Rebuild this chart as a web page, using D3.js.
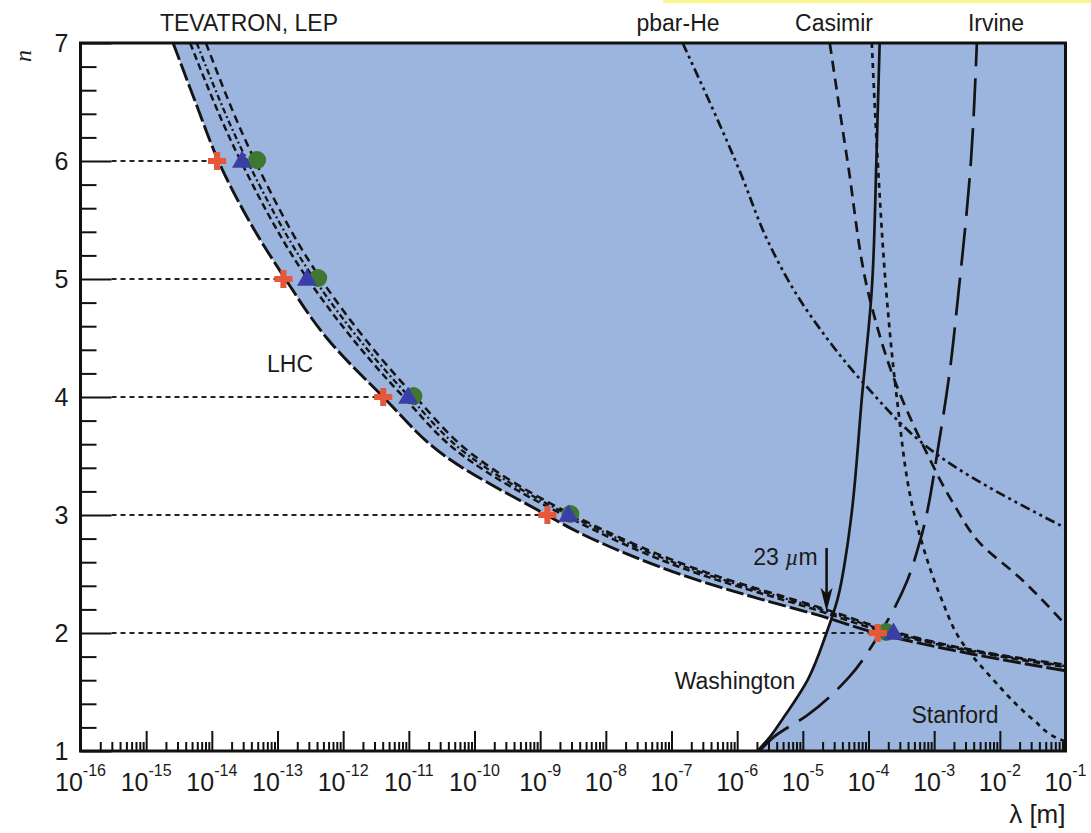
<!DOCTYPE html>
<html>
<head>
<meta charset="utf-8">
<script src="https://cdn.jsdelivr.net/npm/d3@7"></script>
<style>
  body { margin: 0; background: #fff; }
  text { font-family: "Liberation Sans", Arial, sans-serif; fill: #1a1a1a; }
</style>
</head>
<body>
<div id="chart"></div>
<script>
// ---- data: each point is [log10(lambda / m), n] ----
const outerLHC = [[-14.59,7],[-14.25,6.5],[-13.90,6],[-13.44,5.5],[-12.88,5],[-12.25,4.5],[-11.39,4],
  [-10.45,3.5],[-8.90,3],[-8.44,2.86],[-7.68,2.67],[-6.67,2.46],[-5.66,2.29],[-4.70,2.14],
  [-3.88,2.0],[-2.41,1.82],[-1.0,1.68]];
const bundleA = [[-14.33,7],[-13.56,6],[-12.54,5],[-11.08,4],[-10.17,3.5],[-8.64,3],[-6.58,2.5],
  [-4.82,2.2],[-3.68,2.0],[-2.47,1.85],[-1.0,1.71]];
const bundleB = [[-14.23,7],[-13.46,6],[-12.44,5],[-10.99,4],[-10.08,3.5],[-8.56,3],[-6.48,2.5],
  [-4.72,2.2],[-3.60,2.0],[-2.41,1.85],[-1.0,1.72]];
const bundleC = [[-14.09,7],[-13.34,6],[-12.34,5],[-10.90,4],[-10.00,3.5],[-8.50,3],[-6.40,2.5],
  [-4.65,2.2],[-3.54,2.0],[-2.36,1.85],[-1.0,1.73]];
const washington = [[-5.69,1.0],[-5.50,1.12],[-5.31,1.27],[-4.92,1.61],[-4.64,2.0],
  [-4.47,2.29],[-4.33,2.71],[-4.26,3.0],[-4.10,4.0],[-3.95,4.91],[-3.88,6.0],[-3.83,7.0]];
const stanford = [[-5.66,1.0],[-5.44,1.12],[-4.94,1.30],[-4.29,1.63],[-3.88,1.95],[-3.42,2.43],
  [-3.21,2.79],[-2.92,3.64],[-2.76,4.23],[-2.64,4.83],[-2.44,6.0],[-2.35,7.0]];
const dottedCurve = [[-3.95,7.0],[-3.86,6.0],[-3.72,4.83],[-3.57,4.0],[-3.30,3.0],[-2.89,2.29],
  [-2.61,1.95],[-2.11,1.61],[-1.50,1.27],[-1.09,1.10],[-1.0,1.08]];
const casimir = [[-4.59,7.0],[-4.32,6.0],[-3.98,4.83],[-3.56,4.08],[-3.16,3.58],[-2.71,3.10],
  [-2.30,2.76],[-1.70,2.47],[-1.0,2.07]];
const pbarHe = [[-6.83,7.0],[-5.95,5.90],[-5.54,5.33],[-5.04,4.82],[-4.69,4.54],[-4.08,4.12],
  [-2.90,3.49],[-1.0,2.89]];
const crossPoint = [-4.57, 2.12];   // LHC boundary meets Washington

// markers
const nLevels   = [6, 5, 4, 3, 2];
const redCrossL = [-13.92, -12.91, -11.39, -8.89, -3.86];
const greenDotL = [-13.31, -12.38, -10.93, -8.54, -3.73];
const blueTriL  = [-13.54, -12.55, -11.01, -8.57, -3.62];

// arrow "23 um"
const arrowLambda = 2.3e-5;
const arrowN = [2.72, 2.18];

// ticks
const xTickExps = [-16,-15,-14,-13,-12,-11,-10,-9,-8,-7,-6,-5,-4,-3,-2,-1];
const yTicks = [1, 2, 3, 4, 5, 6, 7];

class Exclusion {
  constructor(_config) {
    this.config = {
      parentElement: _config.parentElement,
      containerWidth: _config.containerWidth || 1091,
      containerHeight: _config.containerHeight || 833,
      margin: _config.margin || {top: 43, right: 25.5, bottom: 82, left: 80.5}
    };
    this.initVis();
  }

  initVis() {
    let vis = this;
    vis.width = vis.config.containerWidth - vis.config.margin.left - vis.config.margin.right;
    vis.height = vis.config.containerHeight - vis.config.margin.top - vis.config.margin.bottom;

    vis.root = d3.select(vis.config.parentElement).append("svg")
      .attr("width", vis.config.containerWidth)
      .attr("height", vis.config.containerHeight);

    // yellow strip along the top edge of the scan
    vis.root.append("rect").attr("x", 663).attr("y", 0).attr("width", 428).attr("height", 3)
      .attr("fill", "#fbf68a");

    vis.svg = vis.root.append("g")
      .attr("transform", "translate(" + vis.config.margin.left + "," + vis.config.margin.top + ")");

    vis.x = d3.scaleLog().domain([1e-16, 1e-1]).range([0, vis.width]);
    vis.y = d3.scaleLinear().domain([1, 7]).range([vis.height, 0]);

    vis.svg.append("clipPath").attr("id", "plotclip")
      .append("rect").attr("width", vis.width).attr("height", vis.height);

    // every curve is single valued in n, so a monotone spline in y keeps them smooth
    vis.line = d3.line()
      .x(d => vis.x(Math.pow(10, d[0])))
      .y(d => vis.y(d[1]))
      .curve(d3.curveMonotoneY);

    vis.renderVis();
  }

  renderVis() {
    let vis = this;
    const plot = vis.svg.append("g").attr("clip-path", "url(#plotclip)");

    // excluded region
    plot.append("rect").attr("width", vis.width).attr("height", vis.height).attr("fill", "#9cb5de");

    // allowed (white) region: left of the LHC boundary and of the Washington curve
    const upper = outerLHC.filter(d => d[1] > crossPoint[1]).concat([crossPoint]);
    const lower = [crossPoint].concat(washington.filter(d => d[1] < crossPoint[1]).reverse());
    const whitePath = "M0,0L" + vis.line(upper).slice(1) + "L" + vis.line(lower).slice(1) +
      "L0," + vis.height + "Z";
    plot.append("path").attr("d", whitePath).attr("fill", "#fff");

    // dotted guides to the red crosses
    plot.selectAll(".guide").data(nLevels).join("line")
      .attr("class", "guide")
      .attr("x1", 31)
      .attr("x2", (d, i) => vis.x(Math.pow(10, redCrossL[i])))
      .attr("y1", d => vis.y(d)).attr("y2", d => vis.y(d))
      .attr("stroke", "#222").attr("stroke-width", 1.8).attr("stroke-dasharray", "5,4");

    const curves = [
      {pts: pbarHe,      dash: "10,4,3,4,3,4", w: 2.7},
      {pts: casimir,     dash: "11,7",         w: 2.7},
      {pts: dottedCurve, dash: "5,5",          w: 2.7},
      {pts: stanford,    dash: "38,12",        w: 2.7},
      {pts: washington,  dash: null,           w: 2.7},
      {pts: bundleC,     dash: "8,5",          w: 2.5},
      {pts: bundleB,     dash: "6,3,2,3",      w: 2.3},
      {pts: bundleA,     dash: "7,4",          w: 2.5},
      {pts: outerLHC,    dash: "18,4",         w: 2.9}
    ];
    plot.selectAll(".curve").data(curves).join("path")
      .attr("class", "curve")
      .attr("d", d => vis.line(d.pts))
      .attr("fill", "none")
      .attr("stroke", "#141414")
      .attr("stroke-width", d => d.w)
      .attr("stroke-dasharray", d => d.dash);

    // markers
    const mk = vis.svg.append("g");
    mk.selectAll(".green").data(nLevels).join("circle")
      .attr("class", "green")
      .attr("cx", (d, i) => vis.x(Math.pow(10, greenDotL[i])))
      .attr("cy", d => vis.y(d) - 1)
      .attr("r", 9)
      .attr("fill", "#3f7630");
    mk.selectAll(".blue").data(nLevels).join("path")
      .attr("class", "blue")
      .attr("d", d3.symbol().type(d3.symbolTriangle).size(175))
      .attr("transform", (d, i) => "translate(" + vis.x(Math.pow(10, blueTriL[i])) + "," + (vis.y(d) + 1) + ")")
      .attr("fill", "#3a3fa8");
    mk.selectAll(".red").data(nLevels).join("path")
      .attr("class", "red")
      .attr("d", d3.symbol().type(d3.symbolCross).size(185))
      .attr("transform", (d, i) => "translate(" + vis.x(Math.pow(10, redCrossL[i])) + "," + vis.y(d) + ")")
      .attr("fill", "#e5583a");

    // axes: ticks point inwards
    const xMajor = xTickExps.map(e => Math.pow(10, e));
    const xMinor = [];
    xTickExps.slice(0, -1).forEach(e => {
      for (let m = 2; m <= 9; m++) xMinor.push(m * Math.pow(10, e));
    });
    const yMinor = d3.range(1, 7.01, 0.2).filter(v => Math.abs(v - Math.round(v)) > 1e-6);

    const axisStyle = g => {
      g.select(".domain").remove();
      g.selectAll("line").attr("stroke", "#111").attr("stroke-width", 2);
    };
    vis.svg.append("g").attr("transform", "translate(0," + vis.height + ")")
      .call(d3.axisBottom(vis.x).tickValues(xMajor).tickSize(-20).tickFormat(""))
      .call(axisStyle);
    vis.svg.append("g").attr("transform", "translate(0," + vis.height + ")")
      .call(d3.axisBottom(vis.x).tickValues(xMinor).tickSize(-9).tickFormat(""))
      .call(axisStyle);
    vis.svg.append("g")
      .call(d3.axisLeft(vis.y).tickValues(yTicks).tickSize(-31).tickFormat(""))
      .call(axisStyle);
    vis.svg.append("g")
      .call(d3.axisLeft(vis.y).tickValues(yMinor).tickSize(-16).tickFormat(""))
      .call(axisStyle);

    // frame
    vis.svg.append("rect").attr("width", vis.width).attr("height", vis.height)
      .attr("fill", "none").attr("stroke", "#111").attr("stroke-width", 3);

    // tick labels
    const xl = vis.svg.append("g").selectAll("text").data(xTickExps).join("text")
      .attr("x", d => vis.x(Math.pow(10, d)))
      .attr("y", vis.height + 40)
      .attr("text-anchor", "middle")
      .attr("font-size", 25)
      .text("10");
    xl.append("tspan").attr("dy", -15).attr("font-size", 16).text(d => String(d));

    vis.svg.append("g").selectAll("text").data(yTicks).join("text")
      .attr("x", -12)
      .attr("y", d => vis.y(d) + 9)
      .attr("text-anchor", "end")
      .attr("font-size", 25)
      .text(d => d);

    // axis titles
    vis.svg.append("text")
      .attr("transform", "translate(-49.5,13) rotate(-90)")
      .attr("text-anchor", "middle")
      .style("font-family", "'Liberation Serif', serif")
      .style("font-style", "italic")
      .attr("font-size", 24)
      .text("n");
    vis.svg.append("text")
      .attr("x", vis.width).attr("y", vis.height + 72)
      .attr("text-anchor", "end")
      .attr("font-size", 26)
      .text("λ [m]");

    // experiment labels
    const labels = [
      {t: "TEVATRON, LEP", x: 249, y: 31},
      {t: "pbar-He", x: 678, y: 31},
      {t: "Casimir", x: 834, y: 31},
      {t: "Irvine", x: 996, y: 31},
      {t: "LHC", x: 290, y: 372},
      {t: "Washington", x: 735, y: 689},
      {t: "Stanford", x: 955, y: 723}
    ];
    vis.root.append("g").selectAll("text").data(labels).join("text")
      .attr("x", d => d.x).attr("y", d => d.y)
      .attr("text-anchor", "middle")
      .attr("font-size", 23)
      .text(d => d.t);

    // 23 um arrow
    const ax = vis.x(arrowLambda);
    const ay0 = vis.y(arrowN[0]), ay1 = vis.y(arrowN[1]);
    vis.svg.append("line")
      .attr("x1", ax).attr("x2", ax).attr("y1", ay0).attr("y2", ay1 - 14)
      .attr("stroke", "#111").attr("stroke-width", 2.6);
    vis.svg.append("path")
      .attr("d", "M" + (ax - 6) + "," + (ay1 - 24) + "L" + ax + "," + ay1 + "L" + (ax + 6) + "," + (ay1 - 24) +
        "L" + ax + "," + (ay1 - 18) + "Z")
      .attr("fill", "#111");
    const um = vis.svg.append("text")
      .attr("x", ax - 9).attr("y", ay0 + 17)
      .attr("text-anchor", "end")
      .attr("font-size", 23)
      .text("23 ");
    um.append("tspan").style("font-family", "'Liberation Serif', serif").style("font-style", "italic").text("µ");
    um.append("tspan").text("m");
  }
}

new Exclusion({parentElement: "#chart"});
</script>
</body>
</html>
